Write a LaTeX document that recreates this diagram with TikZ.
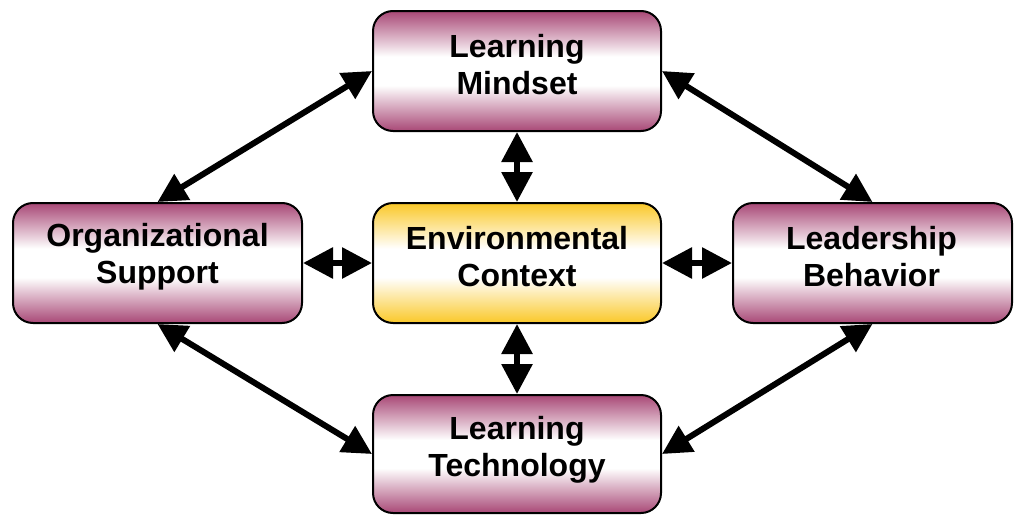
\documentclass[tikz,border=0pt]{standalone}
\usepackage{fontspec}
\setmainfont{Liberation Sans}
\usetikzlibrary{arrows.meta}
\definecolor{purp}{RGB}{168,72,118}
\definecolor{gold}{RGB}{250,200,40}
\pgfdeclareverticalshading{purpshade}{100bp}{color(0bp)=(purp); color(25bp)=(purp); color(44bp)=(white); color(56bp)=(white); color(75bp)=(purp); color(100bp)=(purp)}
\pgfdeclareverticalshading{goldshade}{100bp}{color(0bp)=(gold); color(25bp)=(gold); color(44bp)=(white); color(56bp)=(white); color(75bp)=(gold); color(100bp)=(gold)}
\begin{document}
\begin{tikzpicture}[x=1pt,y=-1pt,
  box/.style={draw=black, line width=2pt, rounded corners=20pt, shading=purpshade,
    minimum width=288pt, minimum height=120pt, inner sep=0pt},
  ctx/.style={box, shading=goldshade},
  txt/.style={inner sep=0pt, align=center, font=\fontsize{32}{37}\selectfont\bfseries},
  link/.style={line width=6pt, {Triangle[length=29pt,width=29pt]}-{Triangle[length=29pt,width=29pt]}},
  short/.style={line width=6pt, {Triangle[length=30pt,width=30pt]}-{Triangle[length=30pt,width=30pt]}}]
\useasboundingbox (0,0) rectangle (1014,514);
\node[box] (top) at (517,71) {};
\node[ctx] (mid) at (517,263) {};
\node[box, minimum width=289pt] (left) at (157.5,263) {};
\node[box, minimum width=279pt] (right) at (872.5,263) {};
\node[box, minimum height=118pt] (bot) at (517,454) {};
\node[txt] (topT) at ([yshift=6pt]top.center) {Learning\\Mindset};
\node[txt] (midT) at ([yshift=6pt]mid.center) {Environmental\\Context};
\node[txt] (leftT) at ([yshift=6pt]left.center) {Organizational\\Support};
\node[txt] (rightT) at ([yshift=6pt,xshift=-1pt]right.center) {Leadership\\Behavior};
\node[txt] (botT) at ([yshift=4pt]bot.center) {Learning\\Technology};
\draw[link] (top.west) -- (left.north);
\draw[link] (top.east) -- (right.north);
\draw[link] (left.south) -- (bot.west);
\draw[link] (right.south) -- (bot.east);
\draw[short] (top.south) -- (mid.north);
\draw[short] (mid.south) -- (bot.north);
\draw[short] (left.east) -- (mid.west);
\draw[short] (mid.east) -- (right.west);
\end{tikzpicture}
\end{document}
